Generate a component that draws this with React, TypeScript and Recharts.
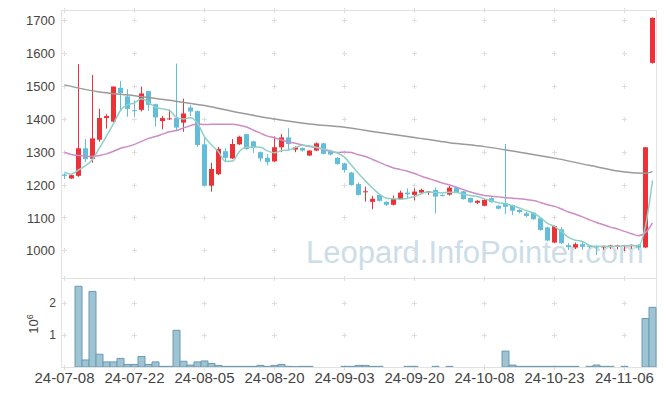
import { ComposedChart, Bar, Line, XAxis, YAxis, CartesianGrid } from 'recharts';

const DATES = [
  '24-07-08', '24-07-09', '24-07-10', '24-07-11', '24-07-12',
  '24-07-15', '24-07-16', '24-07-17', '24-07-18', '24-07-19',
  '24-07-22', '24-07-23', '24-07-24', '24-07-25', '24-07-26',
  '24-07-29', '24-07-30', '24-07-31', '24-08-01', '24-08-02',
  '24-08-05', '24-08-06', '24-08-07', '24-08-08', '24-08-09',
  '24-08-12', '24-08-13', '24-08-14', '24-08-16', '24-08-19',
  '24-08-20', '24-08-21', '24-08-22', '24-08-23', '24-08-26',
  '24-08-27', '24-08-28', '24-08-29', '24-08-30', '24-09-02',
  '24-09-03', '24-09-04', '24-09-05', '24-09-06', '24-09-09',
  '24-09-10', '24-09-11', '24-09-12', '24-09-13', '24-09-19',
  '24-09-20', '24-09-23', '24-09-24', '24-09-25', '24-09-26',
  '24-09-27', '24-09-30', '24-10-02', '24-10-04', '24-10-07',
  '24-10-08', '24-10-10', '24-10-11', '24-10-14', '24-10-15',
  '24-10-16', '24-10-17', '24-10-18', '24-10-21', '24-10-22',
  '24-10-23', '24-10-24', '24-10-25', '24-10-28', '24-10-29',
  '24-10-30', '24-10-31', '24-11-01', '24-11-04', '24-11-05',
  '24-11-06', '24-11-07', '24-11-08', '24-11-11', '24-11-12',
];

const OPENS = [
  1232, 1220, 1228, 1312, 1280, 1338, 1404, 1393, 1496, 1470,
  1428, 1429, 1486, 1446, 1395, 1400, 1404, 1390, 1436, 1425,
  1324, 1198, 1233, 1303, 1281, 1324, 1355, 1333, 1300, 1283,
  1272, 1315, 1345, 1308, 1313, 1290, 1305, 1327, 1301, 1283,
  1266, 1238, 1203, 1179, 1149, 1170, 1149, 1140, 1157, 1177,
  1170, 1177, 1179, 1185, 1170, 1171, 1193, 1181, 1161, 1146,
  1137, 1160, 1137, 1145, 1139, 1124, 1114, 1116, 1099, 1071,
  1025, 1065, 1017, 1010, 1020, 1016, 1015, 1010, 1012, 1013,
  1014, 1014, 1018, 1010, 1572,
];
const HIGHS = [
  1236, 1232, 1568, 1340, 1535, 1432, 1416, 1500, 1517, 1492,
  1458, 1500, 1487, 1448, 1410, 1430, 1570, 1463, 1443, 1427,
  1345, 1268, 1316, 1312, 1340, 1350, 1356, 1335, 1302, 1294,
  1348, 1355, 1373, 1318, 1314, 1306, 1330, 1328, 1302, 1285,
  1268, 1240, 1208, 1195, 1167, 1172, 1150, 1168, 1183, 1190,
  1190, 1189, 1182, 1193, 1172, 1197, 1196, 1183, 1162, 1154,
  1157, 1163, 1138, 1325, 1140, 1126, 1118, 1118, 1100, 1073,
  1077, 1072, 1024, 1025, 1028, 1018, 1016, 1016, 1018, 1018,
  1018, 1019, 1020, 1316, 1710,
];
const LOWS = [
  1218, 1219, 1225, 1270, 1268, 1332, 1372, 1390, 1428, 1408,
  1408, 1424, 1426, 1378, 1370, 1398, 1366, 1362, 1410, 1316,
  1196, 1180, 1230, 1273, 1279, 1322, 1308, 1298, 1272, 1260,
  1270, 1300, 1305, 1300, 1302, 1288, 1303, 1293, 1290, 1262,
  1238, 1198, 1168, 1150, 1126, 1150, 1136, 1138, 1155, 1160,
  1153, 1172, 1170, 1114, 1165, 1168, 1176, 1156, 1145, 1142,
  1135, 1146, 1126, 1112, 1109, 1114, 1102, 1094, 1061, 1029,
  1023, 1020, 1002, 1005, 1003, 1008, 987, 1003, 1005, 1004,
  999, 1006, 1002, 1008, 1570,
];
const CLOSES = [
  1228, 1230, 1312, 1279, 1342, 1404, 1410, 1500, 1480, 1432,
  1426, 1479, 1444, 1406, 1404, 1403, 1375, 1418, 1424, 1322,
  1198, 1249, 1310, 1283, 1325, 1347, 1310, 1314, 1281, 1270,
  1315, 1345, 1325, 1315, 1305, 1305, 1327, 1295, 1293, 1264,
  1246, 1200, 1170, 1181, 1158, 1152, 1140, 1158, 1177, 1172,
  1180, 1185, 1181, 1165, 1168, 1192, 1178, 1157, 1147, 1152,
  1155, 1148, 1128, 1134, 1122, 1118, 1106, 1096, 1063, 1031,
  1075, 1023, 1011, 1020, 1012, 1012, 1010, 1014, 1016, 1016,
  1017, 1018, 1010, 1315, 1709,
];
const VOLUMES = [
  0, 0, 2530000, 220000, 2370000, 400000, 160000, 160000, 270000, 80000,
  80000, 330000, 80000, 160000, 20000, 20000, 1150000, 180000, 60000, 160000,
  190000, 110000, 50000, 20000, 20000, 20000, 20000, 20000, 50000, 20000,
  50000, 80000, 20000, 10000, 20000, 20000, 0, 0, 0, 0,
  20000, 20000, 50000, 50000, 20000, 20000, 0, 0, 0, 20000,
  20000, 0, 0, 20000, 0, 20000, 0, 0, 0, 0,
  0, 0, 0, 500000, 60000, 20000, 20000, 20000, 20000, 20000,
  20000, 20000, 20000, 20000, 0, 20000, 60000, 20000, 20000, 0,
  20000, 0, 0, 1520000, 1870000,
];
const MA5 = [
  1239, 1233, 1246, 1259, 1278, 1313, 1349, 1387, 1427, 1445,
  1450, 1463, 1452, 1437, 1432, 1427, 1406, 1401, 1405, 1388,
  1347, 1322, 1301, 1272, 1273, 1303, 1315, 1316, 1315, 1304,
  1298, 1305, 1307, 1314, 1321, 1319, 1315, 1309, 1305, 1297,
  1285, 1260, 1235, 1212, 1191, 1172, 1160, 1158, 1157, 1160,
  1165, 1174, 1179, 1177, 1176, 1178, 1177, 1172, 1168, 1165,
  1158, 1152, 1146, 1143, 1137, 1130, 1122, 1115, 1101, 1083,
  1074, 1058, 1041, 1032, 1028, 1016, 1013, 1014, 1013, 1014,
  1015, 1016, 1015, 1075, 1214,
];
const MA20 = [
  1300, 1293, 1290, 1288, 1287, 1290, 1295, 1303, 1312, 1317,
  1324, 1333, 1342, 1348, 1355, 1362, 1366, 1374, 1381, 1386,
  1384, 1385, 1385, 1385, 1385, 1382, 1377, 1367, 1358, 1349,
  1344, 1337, 1331, 1327, 1322, 1317, 1314, 1308, 1302, 1299,
  1301, 1299, 1292, 1287, 1278, 1269, 1260, 1252, 1247, 1242,
  1235, 1227, 1220, 1213, 1206, 1200, 1193, 1186, 1179, 1173,
  1168, 1166, 1164, 1161, 1160, 1158, 1156, 1153, 1147, 1140,
  1135, 1127, 1118, 1111, 1103, 1094, 1086, 1079, 1072, 1066,
  1059, 1052, 1046, 1055, 1085,
];
// long average at these day indexes
const MA120_READINGS: [number, number][] = [
  [0, 1505], [5, 1483], [10, 1472], [15, 1458], [20, 1442], [25, 1420],
  [30, 1401], [35, 1386], [40, 1376], [45, 1360], [50, 1345], [55, 1329],
  [60, 1317], [65, 1300], [70, 1282], [75, 1260], [80, 1240], [83, 1236], [84, 1241],
];

const PRICE_TICKS = [1000, 1100, 1200, 1300, 1400, 1500, 1600, 1700];
const VOLUME_TICKS = [1000000, 2000000];

const RED = '#ec3237';
const BLUE = '#62bdd9';
const FONT = '"Liberation Sans", Arial, sans-serif';
const GRID = '#dedede';

const ma120 = new Map(MA120_READINGS);
const rows = DATES.map((date, i) => ({
  date,
  open: OPENS[i],
  high: HIGHS[i],
  low: LOWS[i],
  close: CLOSES[i],
  range: [LOWS[i], HIGHS[i]],
  volume: VOLUMES[i],
  ma5: MA5[i],
  ma20: MA20[i],
  ma120: ma120.has(i) ? ma120.get(i) : null,
}));

const Candle = (props: any) => {
  const { x, y, width, height, payload } = props;
  const { open, close, high, low } = payload;
  const top = Math.min(y, y + height);
  const h = Math.abs(height);
  const ppu = high > low ? h / (high - low) : 0;
  const color = close >= open ? RED : BLUE;
  const bodyTop = top + (high - Math.max(open, close)) * ppu;
  const bodyH = Math.max(1, Math.abs(close - open) * ppu);
  const cx = Math.floor(x + width / 2) + 0.5;
  return (
    <g>
      <line x1={cx} x2={cx} y1={top} y2={top + h} stroke={color} strokeWidth={1} />
      <rect x={x} y={bodyTop} width={width} height={bodyH} fill={color} />
    </g>
  );
};

// small "+" marks where the grid lines would cross
const gridCross = (props: any) => {
  const { x1, x2, y1, index } = props;
  const band = (x2 - x1) / DATES.length;
  const marks = [];
  for (let k = 0; k * 10 < DATES.length; k++) {
    const cx = Math.floor(x1 + band * (10 * k + 0.5)) + 0.5;
    const cy = Math.floor(y1) + 0.5;
    marks.push(
      <line key={`h${k}`} x1={cx - 2.5} x2={cx + 2.5} y1={cy} y2={cy} stroke={GRID} />,
      <line key={`v${k}`} x1={cx} x2={cx} y1={cy - 2.5} y2={cy + 2.5} stroke={GRID} />
    );
  }
  return <g key={`cross-${index}`}>{marks}</g>;
};

export default function App() {
  return (
    <div style={{ position: 'absolute', left: 0, top: 0, width: 665, height: 396, background: '#fff', fontFamily: FONT }}>
      <svg width={665} height={396} style={{ position: 'absolute', left: 0, top: 0 }}>
        <text x={306} y={263} fontSize={31} fill="#cddde8" fontFamily={FONT}>
          Leopard.InfoPointer.com
        </text>
      </svg>
      <div style={{ position: 'absolute', left: 61, top: 10, width: 596, height: 358, boxSizing: 'border-box', border: '1px solid #e2e2e2' }} />
      <div style={{ position: 'absolute', left: 61, top: 278, width: 596, height: 1, background: '#e2e2e2' }} />

      <div style={{ position: 'absolute', left: 0, top: 0 }}>
        <ComposedChart width={665} height={278} data={rows} margin={{ top: 10, right: 9, bottom: 0, left: 0 }}>
          <CartesianGrid vertical={false} horizontal={gridCross} />
          <XAxis dataKey="date" hide />
          <YAxis
            width={61}
            domain={[917, 1733]}
            ticks={PRICE_TICKS}
            allowDataOverflow
            axisLine={false}
            tickLine={false}
            tickSize={0}
            tickMargin={6}
            tick={{ fontSize: 13, fill: '#444', fontFamily: FONT }}
          />
          <Bar dataKey="range" barSize={5} shape={Candle} isAnimationActive={false} />
          <Line type="monotone" dataKey="ma120" stroke="#9a9a9a" strokeWidth={1.5} dot={false} connectNulls isAnimationActive={false} />
          <Line type="monotone" dataKey="ma20" stroke="#cd8cc8" strokeWidth={1.5} dot={false} isAnimationActive={false} />
          <Line type="monotone" dataKey="ma5" stroke="#8fd0c6" strokeWidth={1.5} dot={false} isAnimationActive={false} />
        </ComposedChart>
      </div>

      <div style={{ position: 'absolute', left: 0, top: 278 }}>
        <ComposedChart width={665} height={118} data={rows} margin={{ top: 0, right: 9, bottom: 0, left: 0 }} barCategoryGap={0}>
          <CartesianGrid vertical={false} horizontal={gridCross} />
          <XAxis
            dataKey="date"
            interval={9}
            height={29}
            axisLine={false}
            tickLine={false}
            tickSize={0}
            tickMargin={5}
            tick={{ fontSize: 15, fill: '#444', fontFamily: FONT }}
          />
          <YAxis
            width={61}
            domain={[0, 2790000]}
            ticks={VOLUME_TICKS}
            allowDataOverflow
            axisLine={false}
            tickLine={false}
            tickSize={0}
            tickMargin={5}
            tickFormatter={(v: number) => String(v / 1000000)}
            tick={{ fontSize: 12, fill: '#444', fontFamily: FONT }}
          />
          <Bar dataKey="volume" fill="#9ec3d3" stroke="#6a9ab2" strokeWidth={1} isAnimationActive={false} />
        </ComposedChart>
      </div>

      <svg width={60} height={60} style={{ position: 'absolute', left: 0, top: 295 }}>
        <text transform="translate(38,29) rotate(-90)" textAnchor="middle" fontSize={13} fill="#444" fontFamily={FONT}>
          10<tspan dy={-5} fontSize={9}>6</tspan>
        </text>
      </svg>
    </div>
  );
}
